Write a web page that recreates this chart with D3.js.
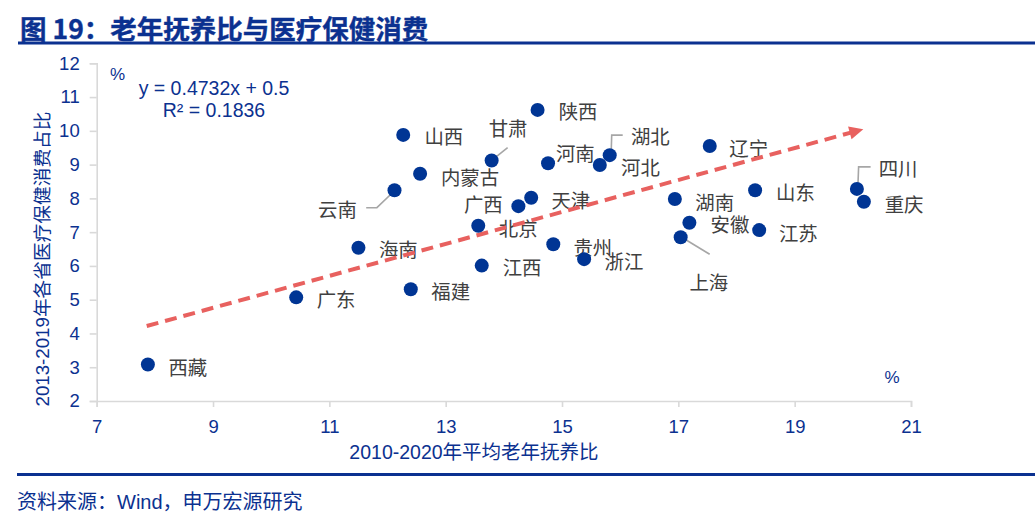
<!DOCTYPE html>
<html>
<head>
<meta charset="utf-8">
<script src="https://cdn.jsdelivr.net/npm/d3@7"></script>
<style>
  html, body { margin: 0; padding: 0; background: #fff; }
  svg { display: block; }
</style>
</head>
<body>
<svg id="chart" width="1035" height="527"></svg>
<script>
// ---------------- data ----------------
const provinces = ["西藏","广东","海南","福建","江西","北京","广西","天津","贵州","浙江",
  "河南","河北","湖北","陕西","甘肃","山西","内蒙古","云南","湖南","安徽",
  "上海","辽宁","山东","江苏","四川","重庆"];
const agingRatio = [7.88,10.43,11.50,12.40,13.62,13.56,14.25,14.47,14.85,15.38,
  14.76,15.65,15.82,14.58,13.79,12.27,12.56,12.12,16.94,17.19,
  17.04,17.54,18.32,18.39,20.07,20.19];
const healthShare = [3.08,5.07,6.54,5.31,6.01,7.19,7.77,8.02,6.64,6.20,
  9.04,8.99,9.28,10.62,9.12,9.88,8.73,8.24,7.98,7.28,
  6.85,9.55,8.24,7.06,8.28,7.90];
const xTicks = [7,9,11,13,15,17,19,21];
const yTicks = [2,3,4,5,6,7,8,9,10,11,12];
const trendSlope = 0.4732;
const trendIntercept = 0.5;
const trendRange = [7.86, 20.18];
const titleText = "图 19：老年抚养比与医疗保健消费";
const xTitle = "2010-2020年平均老年抚养比";
const yTitle = "2013-2019年各省医疗保健消费占比";
const sourceText = "资料来源：Wind，申万宏源研究";
const eqLine1 = "y = 0.4732x + 0.5";
const eqLine2 = "R² = 0.1836";

// ---------------- layout (label placement relative to point, px) ----------------
const labelOffsets = {
  "西藏":[21,2],"广东":[21,1.5],"海南":[21,0.6],"福建":[21,1.5],"江西":[21.5,1.3],
  "北京":[21,1.3],"广西":[-54,-2.2],"天津":[20.7,1.3],"贵州":[20.7,1.7],"浙江":[21,1],
  "河南":[8.4,-10.5],"河北":[21.7,1.7],"湖北":[21.7,-19.2],"陕西":[21.6,0.8],"甘肃":[-2.4,-33.2],
  "山西":[21.7,1],"内蒙古":[21.4,2.5],"云南":[-76,18.5],"湖南":[21,2],"安徽":[21.7,1.3],
  "上海":[9.3,44.4],"辽宁":[20,1.8],"山东":[21.4,1.7],"江苏":[20.3,2.2],"四川":[22.3,-21.2],"重庆":[21.3,1.6]
};
const leaders = {
  "甘肃":[[1,-1],[16,-13]],
  "湖北":[[1.5,-4],[2,-20],[13,-20]],
  "云南":[[-1,1.5],[-17.6,17.4],[-28.3,17.4]],
  "上海":[[1,0],[29,17]],
  "四川":[[1,-3],[1.7,-22],[13.7,-22]]
};

const blue = "#0b3190";
const dotBlue = "#003594";
const cjk = "'Noto Sans CJK SC', 'Liberation Sans', sans-serif";
const latin = "'Liberation Sans', 'Noto Sans CJK SC', Arial, sans-serif";

const svg = d3.select("#chart");
svg.append("rect").attr("width",1035).attr("height",527).attr("fill","#fff");

// title
svg.append("text").attr("x",20).attr("y",27).attr("dominant-baseline","central")
  .attr("font-family",cjk).attr("font-weight",700).attr("font-size",26.5)
  .attr("fill",blue).attr("stroke",blue).attr("stroke-width",0.4).text(titleText);
svg.append("rect").attr("x",18).attr("y",41.5).attr("width",1017).attr("height",3).attr("fill",blue);
svg.append("rect").attr("x",17).attr("y",473).attr("width",1018).attr("height",3).attr("fill",blue);
svg.append("text").attr("x",17).attr("y",502).attr("dominant-baseline","central")
  .attr("font-family",latin).attr("font-size",20).attr("fill",blue).text(sourceText);

// scales
const x = d3.scaleLinear().domain([7,21]).range([96.7,911]);
const y = d3.scaleLinear().domain([2,12]).range([401,63.3]);

// axes
const gx = svg.append("g").attr("transform",`translate(0,${y(2)})`)
  .call(d3.axisBottom(x).tickValues(xTicks).tickSize(6).tickPadding(13).tickFormat(d3.format("d")));
const gy = svg.append("g").attr("transform",`translate(${x(7)},0)`)
  .call(d3.axisLeft(y).tickValues(yTicks).tickSize(7).tickPadding(10).tickFormat(d3.format("d")));
[gx,gy].forEach(g=>{
  g.select(".domain").attr("stroke","#d9d9d9").attr("stroke-width",1.6);
  g.selectAll(".tick line").attr("stroke","#d9d9d9").attr("stroke-width",1.6);
  g.selectAll(".tick text").attr("fill",blue).attr("font-family",latin).attr("font-size",18.5);
});

// axis titles
svg.append("text").attr("x",474).attr("y",452).attr("text-anchor","middle")
  .attr("dominant-baseline","central").attr("font-family",latin).attr("font-size",19.5)
  .attr("fill",blue).text(xTitle);
svg.append("text").attr("transform","translate(42,259) rotate(-90)").attr("text-anchor","middle")
  .attr("dominant-baseline","central").attr("font-family",latin).attr("font-size",18.7)
  .attr("fill",blue).text(yTitle);

// units
svg.append("text").attr("x",117.5).attr("y",74).attr("text-anchor","middle").attr("dominant-baseline","central")
  .attr("font-family",latin).attr("font-size",17).attr("fill",blue).text("%");
svg.append("text").attr("x",892).attr("y",377).attr("text-anchor","middle").attr("dominant-baseline","central")
  .attr("font-family",latin).attr("font-size",17).attr("fill",blue).text("%");

// equation
svg.append("text").attr("x",214).attr("y",88).attr("text-anchor","middle").attr("dominant-baseline","central")
  .attr("font-family",latin).attr("font-size",19.5).attr("fill",blue).text(eqLine1);
svg.append("text").attr("x",214).attr("y",110).attr("text-anchor","middle").attr("dominant-baseline","central")
  .attr("font-family",latin).attr("font-size",19.5).attr("fill",blue).text(eqLine2);

const pts = provinces.map((p,i)=>({name:p, xv:agingRatio[i], yv:healthShare[i]}));

// leader lines
const lineGen = d3.line();
pts.forEach(d=>{
  if(leaders[d.name]){
    const px = x(d.xv), py = y(d.yv);
    svg.append("path").attr("d", lineGen(leaders[d.name].map(([a,b])=>[px+a,py+b])))
      .attr("fill","none").attr("stroke","#a6a6a6").attr("stroke-width",1.6);
  }
});

// labels
svg.append("g").selectAll("text").data(pts).join("text")
  .attr("x",d=>x(d.xv)+labelOffsets[d.name][0]-0.5)
  .attr("y",d=>y(d.yv)+labelOffsets[d.name][1])
  .attr("dominant-baseline","central")
  .attr("font-family",cjk).attr("font-size",19.4).attr("fill","#404040")
  .text(d=>d.name);

// trend line with arrow
const t0 = [x(trendRange[0]), y(trendSlope*trendRange[0]+trendIntercept)];
const t1 = [x(trendRange[1]), y(trendSlope*trendRange[1]+trendIntercept)];
const ang = Math.atan2(t1[1]-t0[1], t1[0]-t0[0]);
const headLen = 14, headHalf = 6.5;
const base = [t1[0]-headLen*Math.cos(ang), t1[1]-headLen*Math.sin(ang)];
svg.append("path").attr("d", lineGen([t0, [base[0]+2*Math.cos(ang), base[1]+2*Math.sin(ang)]]))
  .attr("fill","none").attr("stroke","#e8615f").attr("stroke-width",4)
  .attr("stroke-dasharray","12,7");
svg.append("path").attr("d", lineGen([
    t1,
    [base[0]+headHalf*Math.sin(ang), base[1]-headHalf*Math.cos(ang)],
    [base[0]-headHalf*Math.sin(ang), base[1]+headHalf*Math.cos(ang)]
  ])+"Z").attr("fill","#e8615f");

// dots
svg.append("g").selectAll("circle").data(pts).join("circle")
  .attr("cx",d=>x(d.xv)).attr("cy",d=>y(d.yv)).attr("r",7).attr("fill",dotBlue);
</script>
</body>
</html>
